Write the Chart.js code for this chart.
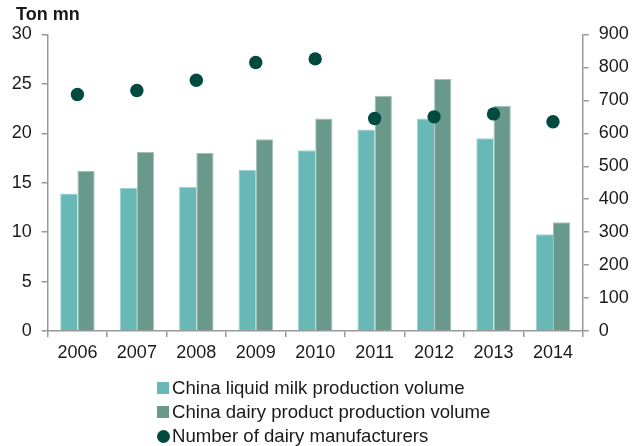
<!DOCTYPE html>
<html>
<head>
<meta charset="utf-8">
<script src="https://cdn.jsdelivr.net/npm/chart.js@4"></script>
<style>
  body { margin: 0; background: #fff; }
  #wrap { position: relative; width: 644px; height: 446px; font-family: "Liberation Sans", Arial, sans-serif; color: #1a1a1a; }
  #unidad { position: absolute; left: 16px; top: 5px; font-size: 18px; line-height: 18px; font-weight: bold; }
  #leyenda { position: absolute; left: 157px; top: 376px; font-size: 18.6px; }
  #leyenda div { height: 24px; line-height: 24px; display: flex; align-items: center; white-space: nowrap; }
  #leyenda span.marca { width: 12px; height: 12px; margin-right: 3px; display: inline-block; }
  #leyenda span.punto { width: 13px; height: 13px; border-radius: 50%; margin-right: 2px; }
</style>
</head>
<body>
<div id="wrap">
  <canvas id="myChart" width="644" height="446"></canvas>
  <div id="unidad">Ton mn</div>
  <div id="leyenda"></div>
</div>
<script>
const anios = ["2006", "2007", "2008", "2009", "2010", "2011", "2012", "2013", "2014"];
const lecheLiquida = [13.9, 14.5, 14.6, 16.3, 18.3, 20.4, 21.5, 19.5, 9.8];
const productosLacteos = [16.2, 18.1, 18.0, 19.4, 21.5, 23.8, 25.5, 22.8, 11.0];
const fabricantes = [718, 730, 761, 815, 826, 645, 650, 659, 635];

const colorLeche = "#67b8b7";
const colorLacteos = "#69998a";
const colorFabricantes = "#024a40";
const colorEje = "#999999";
const fuente = { family: "'Liberation Sans', Arial, sans-serif", size: 18 };

const ctx = document.querySelector("#myChart");

const grafico = new Chart(ctx, {
  type: "bar",
  data: {
    labels: anios,
    datasets: [
      {
        label: "China liquid milk production volume",
        data: lecheLiquida,
        backgroundColor: colorLeche,
        borderColor: "#9fd1d0",
        borderWidth: { top: 1, left: 1, right: 0, bottom: 0 },
        yAxisID: "y",
        order: 1
      },
      {
        label: "China dairy product production volume",
        data: productosLacteos,
        backgroundColor: colorLacteos,
        borderColor: "#a3c0b5",
        borderWidth: { top: 1, left: 1, right: 1, bottom: 0 },
        yAxisID: "y",
        order: 1
      },
      {
        type: "line",
        label: "Number of dairy manufacturers",
        data: fabricantes,
        showLine: false,
        pointRadius: 6.7,
        pointHoverRadius: 6.7,
        pointBackgroundColor: colorFabricantes,
        pointBorderWidth: 0,
        yAxisID: "y1",
        order: 0
      }
    ]
  },
  options: {
    responsive: false,
    animation: false,
    layout: { padding: { top: 34.5, left: 0, right: 0, bottom: 0 } },
    datasets: {
      bar: { categoryPercentage: 0.58, barPercentage: 1.0 }
    },
    plugins: {
      legend: { display: false },
      tooltip: { enabled: false }
    },
    scales: {
      x: {
        afterFit: (escala) => { escala.height = 115; },
        border: { color: colorEje, width: 1.5 },
        grid: { offset: true, drawOnChartArea: false, drawTicks: true, tickLength: 6, color: colorEje, lineWidth: 1.5 },
        ticks: { color: "#1a1a1a", font: fuente, padding: 5, maxRotation: 0 }
      },
      y: {
        position: "left",
        min: 0,
        max: 30,
        afterFit: (escala) => { escala.width = 47.7; },
        border: { color: colorEje, width: 1.5 },
        grid: { drawOnChartArea: false, drawTicks: true, tickLength: 6, color: colorEje, lineWidth: 1.5 },
        ticks: { stepSize: 5, color: "#1a1a1a", font: fuente, padding: 10 }
      },
      y1: {
        position: "right",
        min: 0,
        max: 900,
        afterFit: (escala) => { escala.width = 61.3; },
        border: { color: colorEje, width: 1.5 },
        grid: { drawOnChartArea: false, drawTicks: true, tickLength: 6, color: colorEje, lineWidth: 1.5 },
        ticks: { stepSize: 100, color: "#1a1a1a", font: fuente, padding: 10 }
      }
    }
  }
});

// leyenda en columna, construida desde los datasets
const leyenda = document.querySelector("#leyenda");
grafico.data.datasets.forEach((ds) => {
  const fila = document.createElement("div");
  const marca = document.createElement("span");
  marca.className = ds.type === "line" ? "marca punto" : "marca";
  marca.style.background = ds.type === "line" ? ds.pointBackgroundColor : ds.backgroundColor;
  const texto = document.createElement("span");
  texto.textContent = ds.label;
  fila.appendChild(marca);
  fila.appendChild(texto);
  leyenda.appendChild(fila);
});
</script>
</body>
</html>
